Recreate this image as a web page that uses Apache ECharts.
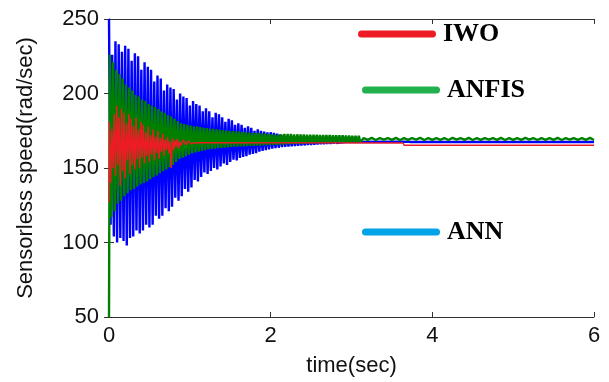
<!DOCTYPE html>
<html>
<head>
<meta charset="utf-8">
<script src="https://cdn.jsdelivr.net/npm/echarts@6/dist/echarts.min.js"></script>
<style>
  html, body { margin: 0; padding: 0; background: #fff; }
  #chart { width: 609px; height: 382px; }
</style>
</head>
<body>
<div id="chart"></div>
<script>
// 轴刻度
const xTicks = { min: 0, max: 6, step: 2 }
const yTicks = { min: 50, max: 250, step: 50 }

// ANN: 振荡段峰/谷值 (每 0.02 s 交替), 之后稳态
const annT0 = 0
const annHalf = 0.02
const annPeaks = [250, 226, 235, 233, 228, 232, 230, 222, 227, 225, 216, 221, 218, 216, 208, 212, 210, 202, 206, 204,
  203, 196, 200, 198, 197, 192, 195, 193, 192, 188, 190, 188, 184, 187, 186, 184, 181, 183, 182, 179,
  180, 179, 177, 178, 177, 175, 176, 175, 174.5, 174, 174, 173.5, 173, 172.5, 172, 171.5, 171, 170.8, 170.5, 170.2,
  170, 169.6, 169.4, 169.2, 169, 168.8, 168.6, 168.5, 168.4, 168.3, 168.2, 168.1, 168]
const annTroughs = [112, 104, 100, 103, 101, 98, 103, 104, 108, 106, 108, 112, 110, 112, 118, 116, 118, 123, 121, 124,
  130, 128, 131, 136, 134, 137, 142, 141, 144, 147, 146, 148, 150, 149, 151, 153, 152, 154, 155.5, 155,
  156.7, 157.5, 158, 159, 159.5, 160, 161, 161.5, 162, 162.5, 163, 163.4, 163.6, 164, 164.2, 164.4, 164.6, 164.8, 165, 165.1,
  165.2, 165.4, 165.5, 165.6, 165.8, 166, 166.1, 166.3, 166.4, 166.6, 166.8, 167, 167.2]
const annTail = [[2.94, 167.5], [3.64, 167.6], [3.66, 167.0], [3.72, 167.5], [6, 167.5]]

// ANFIS
const anfisHead = [[0, 50]]
const anfisT0 = 0.01
const anfisHalf = 0.02
const anfisPeaks = [226, 221, 216, 213, 210, 206, 204, 202, 199, 198, 196, 195, 193, 192, 191, 189.5, 188, 187, 185.5, 184.5,
  183, 181.5, 180, 179.5, 179, 178.5, 178, 178, 177.5, 177, 176.8, 176.5, 176.2, 176, 175.7, 175.4, 175.2, 175, 174.8, 174.6,
  174.5, 174.3, 174, 173.8, 173.6, 173.5, 173.4, 173.2, 173, 172.8, 172.6, 172.4, 172.4, 172.6, 172.8, 172.8, 172.8, 172.6, 172.6, 172.5,
  172.5, 172.4, 172.4, 172.3, 172.3, 172.2, 172.2, 172.1, 172.1, 172, 172, 171.9, 171.9, 171.8, 171.8, 171.7, 171.7, 171.6]
const anfisTroughs = [117, 121, 126, 128, 131, 133, 135, 136, 137.6, 139, 140, 141, 142.5, 144, 145, 146.5, 148, 149, 150.5, 152,
  154, 156, 157, 158, 159, 160, 160.5, 161, 161.5, 162, 162.4, 162.8, 163, 163.3, 163.5, 163.7, 163.9, 164.1, 164.3, 164.4,
  164.5, 164.6, 164.7, 164.8, 164.9, 165, 165.1, 165.2, 165.3, 165.4, 165.5, 165.6, 165.7, 165.8, 165.9, 166, 166.1, 166.2, 166.3, 166.4,
  166.5, 166.6, 166.6, 166.7, 166.7, 166.8, 166.8, 166.8, 166.9, 166.9, 166.9, 167, 167, 167, 167.1, 167.1, 167.1, 167.2]
// 稳态小幅波动 (每 0.05 s)
const anfisTailT0 = 3.15
const anfisTailHalf = 0.05
const anfisTailPeaks = [170.1, 170.2, 170, 170.1, 170.2, 170.1, 170, 170.2, 170.1, 170.1, 170, 170.2, 170.1, 170.2, 170,
  170.1, 170.1, 170.2, 170, 170.1, 170.2, 170.1, 170, 170.1, 170.2, 170.1, 170.1, 170, 170.2]
const anfisTailTroughs = [168.9, 168.8, 169, 168.9, 168.8, 168.9, 169, 168.8, 168.9, 168.9, 168.8, 169, 168.9, 168.8, 168.9,
  169, 168.9, 168.8, 168.9, 168.9, 169, 168.8, 168.9, 168.9, 168.8, 169, 168.9, 168.9, 168.8]

// IWO
const iwoHead = [[0, 127]]
const iwoT0 = 0.005
const iwoHalf = 0.015
const iwoPeaks = [181, 176, 186, 192, 184, 190, 187, 180, 186, 183, 178, 184, 176, 181, 179, 174, 178, 172, 176, 171,
  175, 170, 173, 169, 171, 168, 170, 168.5, 169.5, 168]
const iwoTroughs = [140, 150, 145, 152, 138, 148, 143, 155, 146, 152, 149, 156, 150, 157, 153, 158, 154, 159, 155, 160,
  156, 161, 158, 162, 160, 150, 162, 164, 163, 165]
const iwoTail = [[0.92, 169], [0.95, 165.6], [0.98, 168], [1.02, 166.2], [1.06, 167], [3.64, 166.8], [3.65, 165.3], [6, 165.3]]

// 峰谷交替拼成折线
function zigzag(t0, half, peaks, troughs) {
  const pts = []
  peaks.forEach((p, i) => {
    pts.push([t0 + 2 * i * half, p])
    if (i < troughs.length) pts.push([t0 + (2 * i + 1) * half, troughs[i]])
  })
  return pts
}

const annData = [...zigzag(annT0, annHalf, annPeaks, annTroughs), ...annTail]
const anfisData = [...anfisHead, ...zigzag(anfisT0, anfisHalf, anfisPeaks, anfisTroughs),
  ...zigzag(anfisTailT0, anfisTailHalf, anfisTailPeaks, anfisTailTroughs)]
const iwoData = [...iwoHead, ...zigzag(iwoT0, iwoHalf, iwoPeaks, iwoTroughs), ...iwoTail]

const chart = echarts.init(document.getElementById('chart'))

const sansFont = 'Liberation Sans'
const serifFont = 'Liberation Serif'
const axisColor = '#333'
const labelColor = '#111'

const pillIcon = 'path://M3.5,0 H74.5 A3.5,3.5 0 0 1 74.5,7 H3.5 A3.5,3.5 0 0 1 3.5,0 Z'

function makeLegend(name, color, left, top) {
  return {
    left, top,
    padding: 0,
    itemWidth: 78,
    itemHeight: 7,
    icon: pillIcon,
    textStyle: { fontFamily: serifFont, fontWeight: 'bold', fontSize: 26, color: '#000', padding: [0, 0, 0, 2] },
    data: [{ name, itemStyle: { color } }],
    selectedMode: false
  }
}

const option = {
  animation: false,
  backgroundColor: '#fff',
  grid: { left: 109, top: 19, right: 15, bottom: 65 },
  legend: [
    makeLegend('IWO', '#ed1c24', 358, 21),
    makeLegend('ANFIS', '#22b14c', 362, 77),
    makeLegend('ANN', '#00a2e8', 362, 219)
  ],
  xAxis: [
    {
      type: 'value', min: xTicks.min, max: xTicks.max, interval: xTicks.step,
      position: 'bottom',
      name: 'time(sec)', nameLocation: 'middle', nameGap: 38,
      nameTextStyle: { fontFamily: sansFont, fontSize: 22, color: labelColor },
      axisLine: { lineStyle: { color: axisColor, width: 1 } },
      axisTick: { inside: true, length: 5, lineStyle: { color: axisColor } },
      axisLabel: { fontFamily: sansFont, fontSize: 22, color: labelColor, margin: 8 },
      splitLine: { show: false }
    },
    {
      type: 'value', min: xTicks.min, max: xTicks.max, interval: xTicks.step,
      position: 'top',
      axisLine: { lineStyle: { color: axisColor, width: 1 } },
      axisTick: { inside: true, length: 5, lineStyle: { color: axisColor } },
      axisLabel: { show: false },
      splitLine: { show: false }
    }
  ],
  yAxis: [
    {
      type: 'value', min: yTicks.min, max: yTicks.max, interval: yTicks.step,
      position: 'left',
      name: 'Sensorless speed(rad/sec)', nameLocation: 'middle', nameGap: 72,
      nameTextStyle: { fontFamily: sansFont, fontSize: 22, color: labelColor },
      axisLine: { lineStyle: { color: axisColor, width: 1 } },
      axisTick: { inside: true, length: 5, lineStyle: { color: axisColor } },
      axisLabel: { fontFamily: sansFont, fontSize: 22, color: labelColor, margin: 10 },
      splitLine: { show: false }
    },
    {
      type: 'value', min: yTicks.min, max: yTicks.max, interval: yTicks.step,
      position: 'right',
      axisLine: { lineStyle: { color: axisColor, width: 1 } },
      axisTick: { inside: true, length: 5, lineStyle: { color: axisColor } },
      axisLabel: { show: false },
      splitLine: { show: false }
    }
  ],
  series: [
    {
      name: 'ANN', type: 'line', data: annData, symbol: 'none',
      lineStyle: { color: '#0000ff', width: 2.4 }, itemStyle: { color: '#0000ff' }
    },
    {
      name: 'ANFIS', type: 'line', data: anfisData, symbol: 'none',
      lineStyle: { color: '#008000', width: 2.4 }, itemStyle: { color: '#008000' }
    },
    {
      name: 'IWO', type: 'line', data: iwoData, symbol: 'none',
      lineStyle: { color: '#ed1c24', width: 1.4 }, itemStyle: { color: '#ed1c24' }
    }
  ]
}

chart.setOption(option)
</script>
</body>
</html>
